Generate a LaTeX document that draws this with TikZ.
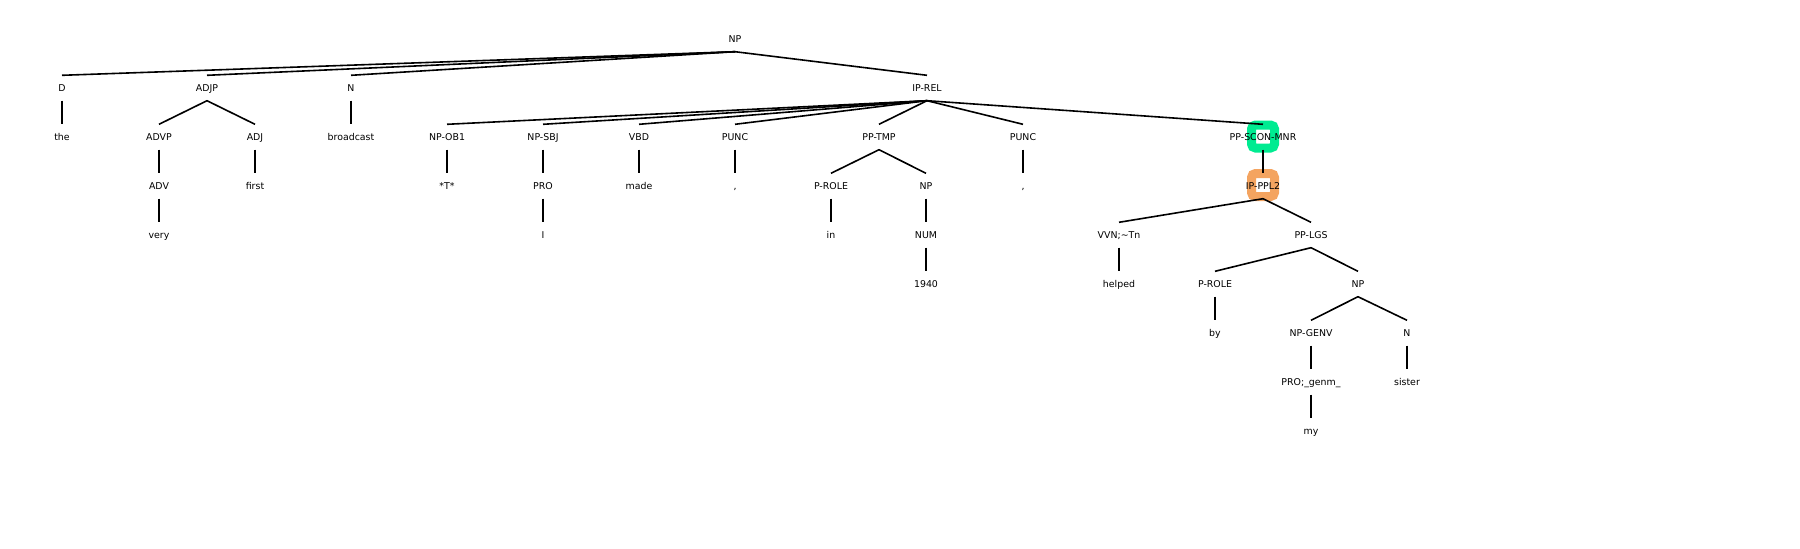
\documentclass[tikz,border=0pt]{standalone}
\usepackage{fontspec}
\setmainfont{DejaVu Sans}
\usetikzlibrary{backgrounds}
\definecolor{hlgreen}{RGB}{0,235,145}
\definecolor{hlorange}{RGB}{244,164,96}
\begin{document}
\begin{tikzpicture}[x=1pt,y=-1pt,
  lbl/.style={inner xsep=0pt, inner ysep=9.1pt, text height=6.8pt, text depth=0pt,
    font=\fontsize{9.4}{11}\selectfont, anchor=center},
  edge/.style={line width=1.6pt, black},
  hl/.style={draw=#1, line width=9pt, fill=white, rounded corners=4pt,
    minimum width=23pt, minimum height=23pt, inner sep=0pt}]
\useasboundingbox (0,0) rectangle (1800,549);
% level 0
\node[lbl] (np) at (735,39) {NP};
% level 1
\node[lbl] (d) at (62,88) {D};
\node[lbl] (adjp) at (207,88) {ADJP};
\node[lbl] (n) at (351,88) {N};
\node[lbl] (iprel) at (927,88) {IP-REL};
% level 2
\node[lbl] (the) at (62,137) {the};
\node[lbl] (advp) at (159,137) {ADVP};
\node[lbl] (adj) at (255,137) {ADJ};
\node[lbl] (broadcast) at (351,137) {broadcast};
\node[lbl] (npob) at (447,137) {NP-OB1};
\node[lbl] (npsbj) at (543,137) {NP-SBJ};
\node[lbl] (vbd) at (639,137) {VBD};
\node[lbl] (punca) at (735,137) {PUNC};
\node[lbl] (pptmp) at (879,137) {PP-TMP};
\node[lbl] (puncb) at (1023,137) {PUNC};
\node[lbl] (ppscon) at (1263,137) {PP-SCON-MNR};
% level 3
\node[lbl] (adv) at (159,186) {ADV};
\node[lbl] (first) at (255,186) {first};
\node[lbl] (trace) at (447,186) {*T*};
\node[lbl] (pro) at (543,186) {PRO};
\node[lbl] (made) at (639,186) {made};
\node[lbl] (comma) at (735,186) {,};
\node[lbl] (prole) at (831,186) {P-ROLE};
\node[lbl] (npt) at (926,186) {NP};
\node[lbl] (commb) at (1023,186) {,};
\node[lbl] (ipppl) at (1263,186) {IP-PPL2};
% level 4
\node[lbl] (very) at (159,235) {very};
\node[lbl] (i) at (543,235) {I};
\node[lbl] (in) at (831,235) {in};
\node[lbl] (num) at (926,235) {NUM};
\node[lbl] (vvn) at (1119,235) {VVN;\string~Tn};
\node[lbl] (pplgs) at (1311,235) {PP-LGS};
% level 5
\node[lbl] (year) at (926,284) {1940};
\node[lbl] (helped) at (1119,284) {helped};
\node[lbl] (proleb) at (1215,284) {P-ROLE};
\node[lbl] (npb) at (1358,284) {NP};
% level 6
\node[lbl] (by) at (1215,333) {by};
\node[lbl] (npgenv) at (1311,333) {NP-GENV};
\node[lbl] (nb) at (1407,333) {N};
% level 7
\node[lbl] (progen) at (1311,382) {PRO;\_genm\_};
\node[lbl] (sister) at (1407,382) {sister};
% level 8
\node[lbl] (my) at (1311,431) {my};
% highlights
\begin{scope}[on background layer]
\node[hl=hlgreen] at ([yshift=0.5pt]ppscon.center) {};
\node[hl=hlorange] at ([yshift=1pt]ipppl.center) {};
\end{scope}
% edges
\foreach \c in {d,adjp,n,iprel} \draw[edge] (np.south) -- (\c.north);
\foreach \c in {advp,adj} \draw[edge] (adjp.south) -- (\c.north);
\draw[edge] (d.south) -- (the.north);
\draw[edge] (n.south) -- (broadcast.north);
\foreach \c in {npob,npsbj,vbd,punca,pptmp,puncb,ppscon} \draw[edge] (iprel.south) -- (\c.north);
\draw[edge] (advp.south) -- (adv.north);
\draw[edge] (adv.south) -- (very.north);
\draw[edge] (adj.south) -- (first.north);
\draw[edge] (npob.south) -- (trace.north);
\draw[edge] (npsbj.south) -- (pro.north);
\draw[edge] (pro.south) -- (i.north);
\draw[edge] (vbd.south) -- (made.north);
\draw[edge] (punca.south) -- (comma.north);
\foreach \c in {prole,npt} \draw[edge] (pptmp.south) -- (\c.north);
\draw[edge] (prole.south) -- (in.north);
\draw[edge] (npt.south) -- (num.north);
\draw[edge] (num.south) -- (year.north);
\draw[edge] (puncb.south) -- (commb.north);
\draw[edge] (ppscon.south) -- (ipppl.north);
\foreach \c in {vvn,pplgs} \draw[edge] (ipppl.south) -- (\c.north);
\draw[edge] (vvn.south) -- (helped.north);
\foreach \c in {proleb,npb} \draw[edge] (pplgs.south) -- (\c.north);
\draw[edge] (proleb.south) -- (by.north);
\foreach \c in {npgenv,nb} \draw[edge] (npb.south) -- (\c.north);
\draw[edge] (npgenv.south) -- (progen.north);
\draw[edge] (nb.south) -- (sister.north);
\draw[edge] (progen.south) -- (my.north);
\end{tikzpicture}
\end{document}
